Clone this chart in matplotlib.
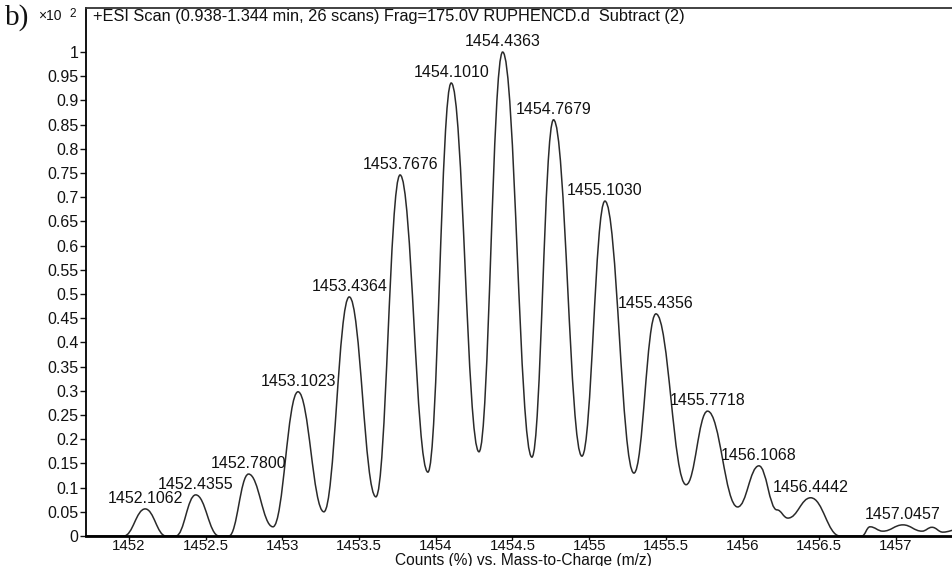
import matplotlib
matplotlib.use('Agg')
import matplotlib.pyplot as plt
from matplotlib.path import Path
from matplotlib.patches import PathPatch
from matplotlib.ticker import FuncFormatter

plt.rcParams['font.family'] = ['Liberation Sans', 'DejaVu Sans']

# labelled isotope peaks: m/z and relative counts (x10^2)
peak_mz = [1452.1062, 1452.4355, 1452.7800, 1453.1023, 1453.4364, 1453.7676,
           1454.1010, 1454.4363, 1454.7679, 1455.1030, 1455.4356, 1455.7718,
           1456.1068, 1456.4442, 1457.0457]
peak_counts = [0.056, 0.085, 0.128, 0.298, 0.494, 0.746,
               0.936, 1.000, 0.860, 0.692, 0.459, 0.258,
               0.145, 0.079, 0.023]
peak_text = ['1452.1062', '1452.4355', '1452.7800', '1453.1023', '1453.4364',
             '1453.7676', '1454.1010', '1454.4363', '1454.7679', '1455.1030',
             '1455.4356', '1455.7718', '1456.1068', '1456.4442', '1457.0457']

# other turning points of the profile (troughs, baseline, small bumps)
trough_mz = [1451.70, 1451.967, 1452.241, 1452.306, 1452.587, 1452.652,
             1452.939, 1453.271, 1453.610, 1453.949, 1454.282, 1454.627,
             1454.953, 1455.292, 1455.632, 1455.968, 1456.224, 1456.296,
             1456.635, 1456.778, 1456.831, 1456.915, 1457.170, 1457.235,
             1457.306, 1457.40]
trough_counts = [0, 0, 0, 0, 0, 0,
                 0.019, 0.050, 0.081, 0.132, 0.174, 0.163,
                 0.165, 0.130, 0.106, 0.060, 0.054, 0.037,
                 0, 0, 0.019, 0.010, 0.010, 0.018,
                 0.008, 0.013]

x_ticks = [1452, 1452.5, 1453, 1453.5, 1454, 1454.5, 1455, 1455.5, 1456, 1456.5, 1457]
y_ticks = [0, 0.05, 0.1, 0.15, 0.2, 0.25, 0.3, 0.35, 0.4, 0.45, 0.5,
           0.55, 0.6, 0.65, 0.7, 0.75, 0.8, 0.85, 0.9, 0.95, 1]

title = '+ESI Scan (0.938-1.344 min, 26 scans) Frag=175.0V RUPHENCD.d  Subtract (2)'
xlabel = 'Counts (%) vs. Mass-to-Charge (m/z)'

fig = plt.figure(figsize=(9.53, 5.66), dpi=100)
ax = fig.add_axes([0.0902, 0.053, 0.9098, 0.9329])

pts = sorted(zip(peak_mz + trough_mz, peak_counts + trough_counts))
k = 0.42
verts = [pts[0]]
codes = [Path.MOVETO]
for (x0, y0), (x1, y1) in zip(pts[:-1], pts[1:]):
    dx = x1 - x0
    verts += [(x0 + k * dx, y0), (x1 - k * dx, y1), (x1, y1)]
    codes += [Path.CURVE4] * 3
ax.add_patch(PathPatch(Path(verts, codes), fill=False, edgecolor='#2a2a2a', lw=1.1))

for x, h, s in zip(peak_mz, peak_counts, peak_text):
    ax.annotate(s, (x, h), xytext=(0, 2), textcoords='offset points',
                ha='center', va='bottom', fontsize=11.5, color='#111111')

ax.set_xlim(1451.720, 1457.372)
ax.set_ylim(0, 1.091)
ax.set_xticks(x_ticks)
ax.set_yticks(y_ticks)
fmt = FuncFormatter(lambda v, p: '%g' % round(v, 4))
ax.xaxis.set_major_formatter(fmt)
ax.yaxis.set_major_formatter(fmt)
ax.tick_params(axis='y', direction='out', length=4, width=1, pad=1.5,
               labelsize=11.5, colors='#111111')
ax.tick_params(axis='x', direction='out', length=3, width=1, pad=-1,
               labelsize=10.8, colors='#111111')

ax.spines['right'].set_visible(False)
ax.spines['bottom'].set_linewidth(2.0)
ax.spines['left'].set_linewidth(1.3)
ax.spines['top'].set_linewidth(1.3)
ax.spines['top'].set_color('#333333')

ax.text(0.008, 0.983, title, transform=ax.transAxes, fontsize=11.8,
        ha='left', va='center', color='#111111')

fig.text(523 / 953, 1 - 560 / 566, xlabel, fontsize=11.2, ha='center',
         va='center', color='#111111')

fig.text(5 / 953, 1 - 18 / 566, 'b)', family='Liberation Serif', fontsize=21,
         ha='left', va='center', color='#111111')
fig.text(38 / 953, 1 - 16 / 566, '\u00d710', fontsize=10, ha='left', va='center',
         color='#111111')
fig.text(69 / 953, 1 - 14 / 566, '2', fontsize=8.5, ha='left', va='center',
         color='#111111')

fig.savefig('out.png', dpi=100)
